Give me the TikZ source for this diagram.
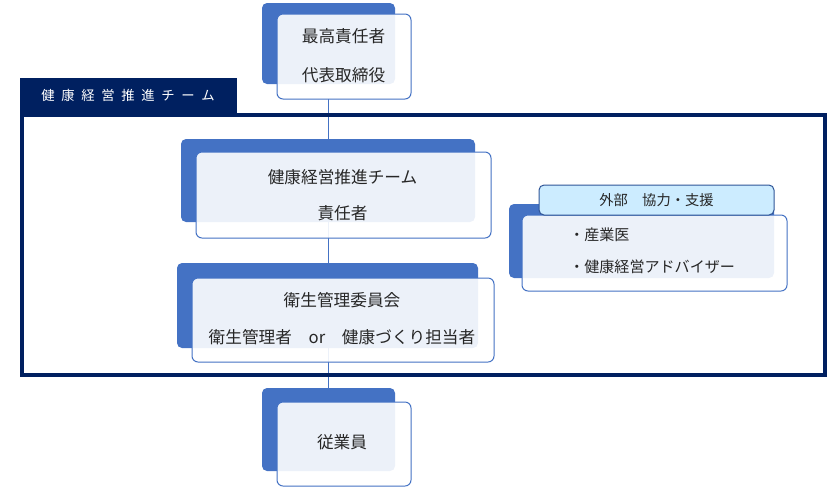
\documentclass[tikz,border=0pt]{standalone}
\usepackage{fontspec}
\setmainfont{Noto Sans CJK JP}
\definecolor{accent}{HTML}{4472C4}
\definecolor{navy}{HTML}{002060}
\definecolor{cyanfill}{HTML}{CCECFF}
\definecolor{hdrborder}{HTML}{2F5597}
\definecolor{txt}{HTML}{262626}
\newcommand{\gp}{\hspace{5.0pt}}
\begin{document}
\begin{tikzpicture}[x=0.75pt,y=-0.75pt,
  backbox/.style={fill=accent, rounded corners=3.75pt, anchor=north west, inner sep=0pt, outer sep=0pt},
  frontbox/.style={draw=accent, line width=0.75pt, fill=white, fill opacity=0.9, rounded corners=4.5pt, anchor=north west, inner sep=0pt, outer sep=0pt},
  lbl/.style={text=txt, font=\fontsize{12.5}{15}\selectfont, inner sep=0pt},
  slbl/.style={text=txt, font=\fontsize{11.3}{13}\selectfont, inner sep=0pt, anchor=west},
  conn/.style={draw=accent, line width=0.75pt}]
\useasboundingbox (0,0) rectangle (827,487);
% connector
\coordinate (ctop) at (328,99);
\coordinate (cbot) at (328,402);
\draw[conn] (ctop) -- (cbot);
% team frame
\node[draw=navy, line width=2.6pt, anchor=north west, inner sep=0pt, outer sep=0pt,
  minimum width=602.25pt, minimum height=195pt] (frame) at (22,115) {};
\node[fill=navy, anchor=north west, inner sep=0pt, outer sep=0pt,
  minimum width=162.75pt, minimum height=27.75pt] (hdr) at (20,78) {};
\node[text=white, font=\fontsize{10}{12}\selectfont, inner sep=0pt] (hdrtext) at (128,95)
  {健\gp 康\gp 経\gp 営\gp 推\gp 進\gp チ\gp ー\gp ム};
% top box
\node[backbox, minimum width=99.75pt, minimum height=60.75pt] (topback) at (262,3) {};
\node[frontbox, minimum width=100.5pt, minimum height=63.75pt] (topfront) at (277,14) {};
\node[lbl] (t1) at (343.5,36) {最高責任者};
\node[lbl] (t2) at (343.5,75) {代表取締役};
% team leader box
\node[backbox, minimum width=220.5pt, minimum height=62.25pt] (b2back) at (181,139) {};
\node[frontbox, minimum width=221.25pt, minimum height=64.5pt] (b2front) at (196,152) {};
\node[lbl] (b2a) at (342.5,177) {健康経営推進チーム};
\node[lbl] (b2b) at (342.5,213) {責任者};
% committee box
\node[backbox, minimum width=225.75pt, minimum height=63.75pt] (b3back) at (177,263) {};
\node[frontbox, minimum width=226.5pt, minimum height=63pt] (b3front) at (192,278) {};
\node[lbl] (b3a) at (342,300) {衛生管理委員会};
\node[lbl] (b3b) at (342,337) {衛生管理者　or　健康づくり担当者};
% external support box
\node[backbox, minimum width=198.75pt, minimum height=55.5pt] (rback) at (509,204) {};
\node[frontbox, minimum width=198.75pt, minimum height=57pt] (rfront) at (522,215) {};
\node[draw=hdrborder, line width=0.75pt, fill=cyanfill, rounded corners=3.75pt, anchor=north west,
  inner sep=0pt, outer sep=0pt, minimum width=176.25pt, minimum height=22.5pt] (rhdr) at (539,185) {};
\node[text=txt, font=\fontsize{10.7}{12}\selectfont, inner sep=0pt] (rhdrtext) at (656.5,200) {外部　協力・支援};
\node[slbl] (r1) at (569,235) {・産業医};
\node[slbl] (r2) at (569,267) {・健康経営アドバイザー};
% employees box
\node[backbox, minimum width=99.75pt, minimum height=62.25pt] (botback) at (262,388) {};
\node[frontbox, minimum width=100.5pt, minimum height=63pt] (botfront) at (277,402) {};
\node[lbl] (bot) at (342,442) {従業員};
\end{tikzpicture}
\end{document}
